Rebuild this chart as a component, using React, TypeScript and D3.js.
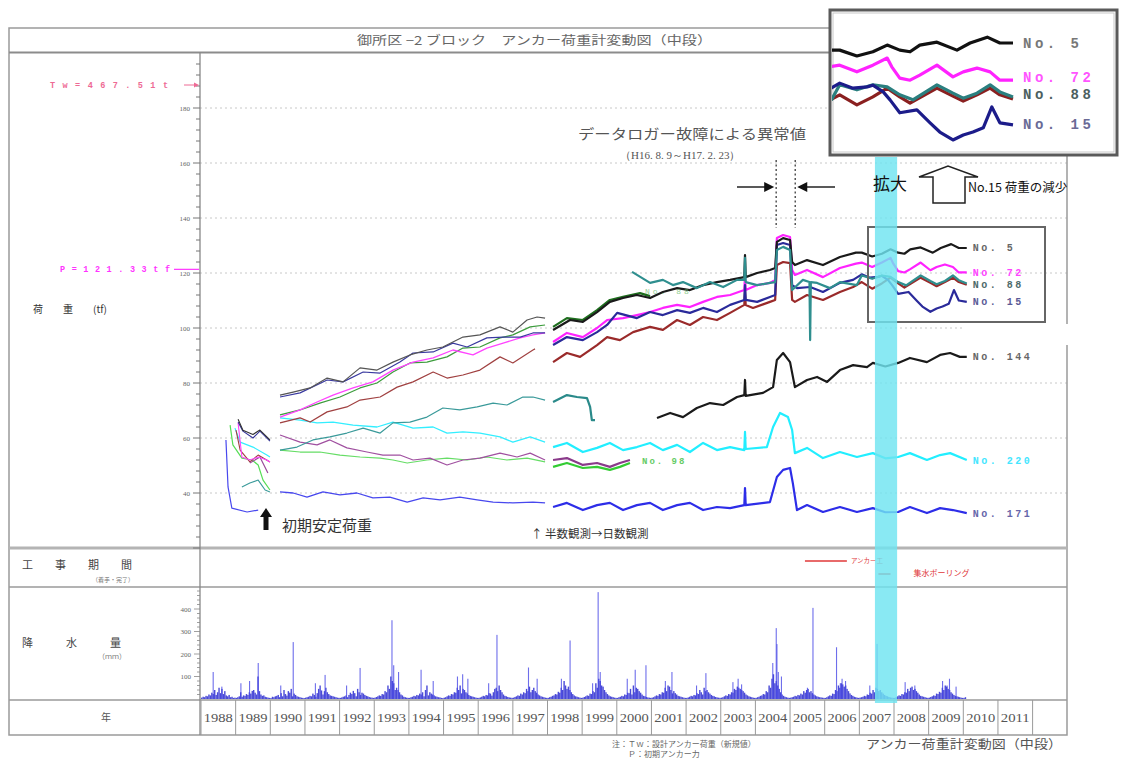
import React from "react";
import * as d3 from "d3";

type Pt = [number, number];

// ---------- load data (tf), segments separated by logging gaps ----------
const no5: Pt[][] = [
  [[1989.07, 66.8], [1989.21, 62.8], [1989.5, 61.3], [1989.7, 62.9], [1989.99, 59.3]],
  [[1990.28, 75.6], [1990.66, 76.7], [1991.15, 78.2], [1991.64, 81.8], [1992.1, 80.4], [1992.59, 85.5], [1993.08, 84.7], [1993.54, 87.6], [1994.03, 90.2], [1994.52, 92.0], [1994.98, 93.1], [1995.56, 96.7], [1996.05, 97.5], [1996.63, 100.4], [1997.0, 98.5], [1997.41, 102.9], [1997.7, 104.0], [1997.93, 103.6]],
  [[1998.16, 99.3], [1998.65, 102.9], [1999.02, 102.2], [1999.43, 105.8], [1999.8, 109.5], [2000.18, 110.9], [2000.58, 112.0], [2000.96, 110.9], [2001.33, 113.1], [2001.74, 114.5], [2002.11, 113.8], [2002.49, 115.6], [2002.89, 116.7], [2003.27, 117.5], [2003.68, 118.5], [2003.7, 126.5], [2003.72, 118.5], [2004.05, 120.0], [2004.42, 121.1], [2004.57, 121.8], [2004.62, 131.3], [2004.8, 132.7], [2005.0, 132.0], [2005.06, 124.0], [2005.14, 122.9], [2005.49, 124.7], [2005.95, 122.9], [2006.44, 125.8], [2006.9, 127.4], [2007.07, 127.4], [2007.37, 126.0], [2007.65, 127.0], [2007.9, 128.6], [2008.12, 127.4], [2008.3, 127.0], [2008.47, 128.6], [2008.77, 129.3], [2009.12, 127.4], [2009.35, 129.1], [2009.65, 130.5], [2009.87, 129.1], [2010.1, 129.1]],
];

const no72: Pt[][] = [
  [[1989.07, 65.5], [1989.18, 53.1], [1989.41, 52.0], [1989.65, 53.1], [1989.9, 52.0], [1989.99, 51.3]],
  [[1990.28, 67.6], [1990.86, 70.2], [1991.35, 73.1], [1991.81, 75.6], [1992.39, 78.2], [1992.96, 80.4], [1993.54, 84.7], [1994.12, 87.6], [1994.7, 89.1], [1995.27, 92.0], [1995.85, 90.2], [1996.25, 92.7], [1996.72, 94.5], [1997.21, 96.4], [1997.58, 97.5], [1997.93, 98.2]],
  [[1998.16, 94.9], [1998.56, 98.2], [1999.02, 96.7], [1999.43, 100.0], [1999.72, 102.9], [2000.18, 103.6], [2000.58, 104.7], [2000.96, 105.8], [2001.33, 107.3], [2001.74, 108.4], [2002.11, 107.6], [2002.49, 109.5], [2002.89, 111.3], [2003.27, 112.0], [2003.68, 113.8], [2003.7, 119.3], [2003.72, 113.8], [2004.05, 115.6], [2004.42, 116.4], [2004.57, 117.5], [2004.62, 132.7], [2004.8, 133.8], [2005.0, 133.1], [2005.06, 121.1], [2005.14, 119.3], [2005.49, 121.1], [2005.95, 118.5], [2006.44, 121.8], [2006.9, 123.4], [2007.07, 123.8], [2007.37, 122.2], [2007.65, 123.8], [2007.9, 125.5], [2007.98, 123.4], [2008.12, 120.7], [2008.3, 120.2], [2008.47, 121.4], [2008.77, 123.8], [2009.05, 121.0], [2009.23, 122.2], [2009.47, 123.1], [2009.7, 122.2], [2009.87, 120.2], [2010.1, 120.2]],
];

const no15: Pt[][] = [
  [[1989.07, 65.8], [1989.21, 62.5], [1989.5, 60.0], [1989.7, 62.5], [1989.99, 58.9]],
  [[1990.28, 74.9], [1990.86, 76.4], [1991.64, 81.1], [1992.1, 80.4], [1992.68, 84.0], [1993.17, 83.6], [1993.74, 87.6], [1994.12, 90.9], [1994.7, 91.3], [1995.27, 94.5], [1995.68, 93.1], [1996.25, 96.4], [1996.72, 96.7], [1997.21, 96.7], [1997.58, 98.2], [1997.93, 98.2]],
  [[1998.16, 93.8], [1998.56, 96.7], [1999.02, 95.6], [1999.43, 98.5], [1999.72, 101.1], [2000.01, 105.5], [2000.58, 103.6], [2000.96, 105.8], [2001.33, 104.7], [2001.74, 106.5], [2002.11, 105.5], [2002.49, 107.3], [2002.89, 105.8], [2003.27, 108.4], [2003.68, 110.2], [2003.7, 115.6], [2003.72, 110.2], [2004.05, 109.5], [2004.42, 111.3], [2004.57, 112.0], [2004.62, 130.2], [2004.8, 130.9], [2005.0, 130.2], [2005.06, 115.6], [2005.2, 114.5], [2005.58, 114.9], [2005.95, 113.1], [2006.44, 116.4], [2006.82, 117.5], [2007.07, 119.5], [2007.3, 118.3], [2007.55, 118.6], [2007.65, 119.0], [2007.83, 117.4], [2007.95, 115.5], [2008.12, 112.4], [2008.42, 113.1], [2008.65, 110.0], [2008.82, 107.8], [2009.05, 105.9], [2009.23, 107.1], [2009.4, 107.8], [2009.58, 108.8], [2009.73, 113.8], [2009.87, 110.0], [2010.1, 109.5]],
];

const greenUpper: Pt[][] = [
  [[1990.28, 68.4], [1990.86, 70.2], [1991.43, 72.7], [1992.01, 74.9], [1992.59, 78.2], [1993.08, 80.0], [1993.54, 84.0], [1994.03, 87.3], [1994.52, 87.6], [1995.1, 89.5], [1995.56, 92.7], [1996.05, 93.1], [1996.63, 96.4], [1997.0, 97.5], [1997.5, 100.4], [1997.93, 101.1]],
  [[1998.16, 100.4], [1998.56, 103.6], [1999.02, 102.9], [1999.43, 106.5], [1999.8, 110.2], [2000.18, 111.3], [2000.67, 112.7], [2000.96, 111.6]],
];

const brown: Pt[][] = [
  [[1989.01, 62.9], [1989.13, 55.6], [1989.41, 51.3], [1989.65, 53.8], [1989.99, 51.3]],
  [[1990.28, 65.5], [1990.86, 67.3], [1991.15, 65.8], [1991.64, 69.5], [1992.21, 71.3], [1992.59, 73.8], [1993.17, 74.9], [1993.66, 78.5], [1994.12, 80.4], [1994.7, 84.0], [1995.1, 81.8], [1995.56, 82.9], [1996.05, 84.7], [1996.63, 89.5], [1997.0, 87.3], [1997.58, 92.0], [1997.64, 92.4]],
  [[1998.16, 87.6], [1998.56, 90.9], [1998.94, 89.5], [1999.43, 93.8], [1999.72, 96.7], [2000.09, 95.6], [2000.47, 98.5], [2000.96, 100.4], [2001.33, 99.3], [2001.74, 102.9], [2002.11, 101.1], [2002.49, 104.0], [2002.89, 102.9], [2003.27, 105.5], [2003.68, 108.4], [2003.7, 113.8], [2003.72, 108.4], [2003.93, 107.3], [2004.42, 109.5], [2004.57, 110.2], [2004.62, 122.9], [2004.8, 124.0], [2005.0, 123.6], [2005.06, 110.2], [2005.14, 109.5], [2005.49, 112.0], [2005.95, 110.2], [2006.44, 113.1], [2006.82, 114.9], [2007.07, 116.7], [2007.37, 114.3], [2007.65, 116.2], [2007.9, 118.3], [2008.12, 116.2], [2008.3, 114.7], [2008.77, 118.3], [2009.05, 116.4], [2009.23, 115.2], [2009.47, 116.7], [2009.7, 118.3], [2009.87, 116.7], [2010.1, 115.7]],
];

const tealLower: Pt[][] = [
  [[1989.18, 42.2], [1989.41, 43.6], [1989.65, 44.7], [1989.85, 41.1], [1989.99, 40.4]],
  [[1990.28, 55.6], [1990.77, 56.7], [1991.23, 59.3], [1991.72, 60.4], [1992.21, 61.8], [1992.68, 63.6], [1993.17, 61.8], [1993.54, 65.5], [1994.03, 65.8], [1994.52, 67.6], [1994.98, 70.9], [1995.47, 70.2], [1995.97, 71.3], [1996.43, 72.7], [1996.83, 72.0], [1997.29, 74.9], [1997.58, 74.9], [1997.93, 73.8]],
  [[1998.16, 73.1], [1998.56, 75.6], [1998.85, 74.9], [1999.14, 74.5], [1999.23, 71.3], [1999.28, 66.5], [1999.37, 66.5]],
];

const no88: Pt[][] = [
  [[2000.44, 120.4], [2000.96, 116.4], [2001.33, 117.5], [2001.62, 115.6], [2001.91, 116.7], [2002.31, 114.5], [2002.69, 116.7], [2003.07, 114.9], [2003.47, 117.5], [2003.68, 117.5], [2003.7, 125.5], [2003.72, 116.7], [2004.05, 115.6], [2004.42, 116.4], [2004.57, 116.7], [2004.62, 128.4], [2004.8, 129.5], [2005.0, 128.4], [2005.06, 113.8], [2005.37, 117.5], [2005.56, 116.7], [2005.58, 95.6], [2005.6, 116.7], [2005.78, 116.4], [2006.15, 114.5], [2006.44, 116.7], [2006.93, 115.6], [2007.07, 119.1], [2007.37, 117.9], [2007.65, 119.1], [2007.9, 118.6], [2008.12, 116.7], [2008.35, 115.5], [2008.77, 119.1], [2009.05, 117.1], [2009.23, 115.9], [2009.47, 117.1], [2009.7, 119.1], [2009.87, 117.4], [2010.1, 116.2]],
];

const no144: Pt[][] = [
  [[2001.16, 67.3], [2001.54, 69.1], [2001.91, 67.6], [2002.31, 70.9], [2002.69, 72.7], [2003.07, 72.0], [2003.47, 74.9], [2003.68, 75.6], [2003.7, 81.1], [2003.72, 75.3], [2004.22, 76.4], [2004.51, 78.5], [2004.62, 88.4], [2004.8, 90.9], [2005.0, 87.6], [2005.14, 78.5], [2005.49, 81.1], [2005.78, 82.2], [2006.07, 80.4], [2006.44, 84.7], [2006.82, 86.5], [2007.22, 85.8], [2007.39, 87.3], [2007.75, 86.0], [2008.12, 87.3], [2008.46, 89.1], [2008.95, 87.6], [2009.33, 90.2], [2009.62, 90.9], [2009.9, 89.5], [2010.1, 89.5]],
];

const no220: Pt[][] = [
  [[1988.98, 63.6], [1989.13, 58.5], [1989.5, 56.7], [1989.9, 53.8], [1989.99, 53.1]],
  [[1990.28, 67.3], [1990.86, 66.5], [1991.35, 65.5], [1991.81, 65.8], [1992.39, 64.7], [1993.08, 64.0], [1993.54, 65.8], [1994.12, 63.6], [1994.7, 64.0], [1995.1, 61.8], [1995.56, 62.2], [1996.05, 61.8], [1996.63, 60.4], [1997.0, 58.5], [1997.5, 60.4], [1997.93, 58.5]],
  [[1998.16, 56.7], [1998.56, 58.2], [1999.02, 54.9], [1999.43, 56.4], [1999.8, 58.2], [2000.18, 55.6], [2000.58, 56.7], [2000.96, 58.2], [2001.33, 55.6], [2001.74, 57.5], [2002.11, 54.9], [2002.49, 58.2], [2002.89, 55.6], [2003.27, 56.7], [2003.68, 55.6], [2003.7, 62.2], [2003.72, 56.0], [2004.33, 56.7], [2004.51, 64.0], [2004.71, 69.1], [2004.94, 67.6], [2005.06, 62.9], [2005.14, 54.5], [2005.49, 56.4], [2005.95, 52.7], [2006.44, 54.9], [2006.93, 53.1], [2007.39, 54.5], [2007.75, 52.6], [2008.12, 53.1], [2008.46, 54.5], [2008.95, 52.0], [2009.33, 53.8], [2009.62, 54.5], [2010.1, 52.0]],
];

const no171: Pt[][] = [
  [[1988.72, 59.3], [1988.78, 42.2], [1988.89, 34.5], [1989.33, 33.1], [1989.65, 33.8]],
  [[1990.28, 40.4], [1990.66, 40.0], [1991.06, 38.5], [1991.52, 40.4], [1992.01, 39.3], [1992.5, 40.0], [1992.96, 38.2], [1993.45, 38.5], [1993.95, 36.7], [1994.41, 38.2], [1994.9, 37.5], [1995.47, 38.5], [1995.97, 37.5], [1996.43, 36.7], [1997.0, 36.4], [1997.58, 36.7], [1997.93, 36.4]],
  [[1998.16, 34.9], [1998.56, 36.4], [1999.02, 33.8], [1999.43, 35.6], [1999.8, 36.4], [2000.18, 33.8], [2000.58, 35.6], [2000.96, 36.4], [2001.33, 33.8], [2001.74, 35.6], [2002.11, 36.4], [2002.49, 33.8], [2002.89, 34.9], [2003.27, 34.5], [2003.68, 35.6], [2003.7, 41.8], [2003.72, 35.6], [2004.42, 36.7], [2004.62, 45.8], [2004.8, 48.4], [2005.0, 49.1], [2005.08, 43.6], [2005.2, 33.8], [2005.49, 35.6], [2005.95, 33.1], [2006.44, 34.9], [2006.93, 33.1], [2007.39, 34.5], [2007.75, 33.0], [2008.12, 33.1], [2008.46, 34.9], [2008.95, 32.7], [2009.33, 34.5], [2009.7, 33.8], [2010.1, 32.7]],
];

const no98: Pt[][] = [
  [[1989.41, 50.9], [1989.7, 53.1], [1989.93, 47.3]],
  [[1990.28, 61.1], [1990.86, 58.5], [1991.35, 57.5], [1991.72, 59.3], [1992.21, 56.4], [1992.79, 54.9], [1993.25, 53.8], [1993.74, 53.8], [1994.12, 52.0], [1994.61, 52.7], [1995.1, 50.2], [1995.56, 52.0], [1996.05, 52.7], [1996.63, 54.5], [1997.12, 53.1], [1997.5, 54.5], [1997.93, 52.0]],
  [[1998.16, 52.0], [1998.56, 52.7], [1999.02, 50.2], [1999.43, 50.9], [1999.8, 49.5], [2000.09, 50.9], [2000.38, 52.0]],
];

const limeGreen: Pt[][] = [
  [[1988.84, 64.7], [1988.92, 57.5], [1989.18, 52.7], [1989.47, 52.0], [1989.65, 50.2], [1989.79, 44.7], [1989.99, 41.1]],
  [[1990.28, 55.6], [1990.86, 54.9], [1991.43, 54.9], [1992.01, 53.8], [1992.59, 53.1], [1993.17, 52.7], [1993.54, 52.0], [1993.95, 50.9], [1994.52, 52.0], [1995.1, 52.7], [1995.68, 52.0], [1996.25, 53.1], [1996.83, 52.0], [1997.41, 52.7], [1997.93, 51.3]],
  [[1998.16, 49.5], [1998.56, 50.9], [1999.02, 49.1], [1999.43, 49.5], [1999.8, 48.4], [2000.09, 49.5], [2000.38, 50.9]],
];

// ---------- rainfall (mm): half-monthly bars per year, plus storm peaks ----------
const rainYears = d3.range(1988, 2011);
const rainHalfMonthly: number[][] = [
  [6, 10, 8, 14, 12, 20, 16, 28, 22, 40, 18, 30, 50, 26, 45, 22, 35, 16, 12, 18, 8, 10, 5, 6],
  [5, 8, 12, 30, 10, 16, 14, 22, 18, 30, 24, 36, 40, 28, 20, 100, 35, 20, 14, 16, 10, 8, 6, 5],
  [4, 10, 8, 12, 14, 18, 8, 26, 12, 40, 22, 15, 35, 28, 45, 12, 24, 18, 12, 10, 8, 6, 5, 4],
  [6, 8, 10, 14, 12, 24, 18, 10, 26, 45, 60, 38, 20, 35, 50, 30, 22, 16, 14, 12, 10, 8, 6, 5],
  [5, 7, 10, 12, 16, 8, 18, 28, 22, 36, 26, 12, 45, 30, 18, 28, 24, 18, 14, 12, 9, 7, 6, 5],
  [6, 9, 12, 16, 14, 22, 20, 35, 30, 60, 45, 100, 80, 70, 40, 50, 40, 30, 20, 16, 10, 8, 6, 5],
  [5, 8, 10, 14, 12, 18, 16, 24, 20, 30, 12, 40, 60, 16, 30, 24, 20, 16, 12, 10, 8, 7, 5, 4],
  [6, 8, 12, 16, 14, 22, 20, 30, 28, 50, 40, 60, 25, 45, 40, 30, 25, 18, 14, 12, 10, 8, 6, 5],
  [5, 7, 10, 14, 12, 18, 16, 26, 24, 15, 30, 45, 50, 35, 60, 40, 30, 20, 14, 12, 9, 7, 6, 5],
  [6, 9, 12, 16, 14, 24, 20, 30, 26, 45, 35, 55, 30, 40, 50, 35, 28, 20, 16, 12, 10, 8, 6, 5],
  [5, 8, 10, 14, 16, 22, 20, 32, 28, 50, 40, 80, 60, 45, 55, 40, 30, 22, 16, 12, 10, 8, 6, 5],
  [6, 9, 12, 16, 14, 24, 22, 35, 30, 70, 50, 90, 80, 60, 55, 40, 30, 22, 16, 12, 10, 8, 6, 5],
  [5, 8, 10, 14, 12, 20, 18, 28, 26, 45, 20, 60, 30, 50, 45, 35, 28, 20, 14, 12, 9, 7, 6, 5],
  [6, 8, 12, 16, 14, 22, 20, 30, 28, 50, 35, 60, 55, 40, 25, 35, 26, 20, 14, 12, 10, 8, 6, 5],
  [5, 7, 10, 14, 12, 18, 16, 26, 22, 40, 30, 20, 50, 35, 40, 30, 24, 18, 14, 12, 9, 7, 6, 5],
  [6, 8, 12, 16, 14, 22, 20, 30, 28, 45, 40, 55, 50, 45, 40, 35, 28, 20, 16, 12, 10, 8, 6, 5],
  [5, 8, 10, 14, 16, 22, 20, 35, 30, 60, 50, 90, 110, 70, 80, 60, 45, 30, 20, 14, 10, 8, 6, 5],
  [6, 8, 10, 14, 12, 18, 16, 24, 20, 35, 28, 40, 45, 30, 35, 26, 20, 16, 12, 10, 8, 7, 6, 5],
  [5, 8, 12, 16, 14, 24, 22, 40, 35, 60, 50, 70, 65, 55, 60, 45, 35, 25, 18, 14, 10, 8, 6, 5],
  [6, 8, 10, 14, 12, 20, 18, 28, 24, 40, 30, 50, 45, 35, 40, 30, 24, 18, 14, 12, 9, 7, 6, 5],
  [5, 8, 12, 16, 14, 22, 20, 30, 28, 45, 35, 50, 55, 40, 45, 35, 28, 20, 14, 12, 10, 8, 6, 5],
  [6, 9, 12, 16, 14, 24, 22, 32, 28, 50, 40, 60, 55, 45, 40, 30, 24, 18, 14, 12, 10, 8, 6, 5],
  [5, 8],
];
const rainPeaks: Pt[] = [
  [1988.35, 120], [1988.6, 55], [1989.15, 70], [1989.4, 80], [1989.65, 160], [1990.3, 60], [1990.66, 253],
  [1991.3, 70], [1991.58, 107], [1992.2, 60], [1992.59, 138], [1993.51, 350], [1993.56, 150], [1993.7, 120],
  [1994.35, 130], [1994.7, 80], [1995.4, 100], [1995.55, 110], [1995.7, 90], [1996.3, 70], [1996.54, 285],
  [1997.45, 140], [1997.7, 90], [1998.4, 90], [1998.65, 260], [1999.3, 70], [1999.46, 475], [1999.52, 120],
  [2000.3, 90], [2000.53, 130], [2000.84, 150], [2001.4, 80], [2001.59, 120], [2002.3, 60], [2002.57, 115],
  [2003.35, 75], [2003.5, 90], [2003.6, 65], [2004.5, 160], [2004.6, 315], [2004.62, 244], [2004.66, 120],
  [2004.75, 100], [2005.5, 50], [2005.66, 405], [2006.34, 230], [2006.45, 70], [2006.5, 90], [2006.6, 80],
  [2007.3, 60], [2007.51, 245], [2008.32, 75], [2008.6, 60], [2009.4, 80], [2009.53, 60], [2009.6, 90],
  [2009.79, 55],
];

// ---------- construction periods, ticks, annotations ----------
const works = [
  { name: "アンカー工", start: 2005.43, end: 2006.64, row: 0 },
  { name: "集水ボーリング", start: 2007.55, end: 2007.9, row: 1 },
];
const loadTicks = [40, 60, 80, 100, 120, 140, 160, 180];
const rainTicks = [100, 200, 300, 400];
const years = d3.range(1988, 2012);
const loggerFault: [number, number] = [2004.6, 2005.15];
const highlight: [number, number] = [2007.45, 2008.09];
const designLoad = 467.51;
const initialLoad = 121.33;

// scales
const x = d3.scaleLinear().domain([1988, 2012]).range([201, 1032.6]);
const yLoad = d3.scaleLinear().domain([40, 180]).range([493, 108]);
const yRain = d3.scaleLinear().domain([0, 400]).range([699, 609]);
const xIn = d3.scaleLinear().domain([2006.9, 2010.1]).range([830, 1013]);
const yIn = d3.scaleLinear().domain([137, 102.3]).range([10, 155]);

type Series = { data: Pt[][]; colors: string[]; widths: number[] };
const drawOrder: Series[] = [
  { data: limeGreen, colors: ["#55dd55", "#66dd66", "#33cc33"], widths: [1.2, 1.2, 2.2] },
  { data: no98, colors: ["#9a4a9a", "#a050a0", "#8a3a8a"], widths: [1.2, 1.2, 2.2] },
  { data: no220, colors: ["#33eeff", "#33eeff", "#22eeff"], widths: [1.2, 1.3, 2.2] },
  { data: no171, colors: ["#4848ee", "#4848ee", "#2d2de8"], widths: [1.2, 1.3, 2.2] },
  { data: tealLower, colors: ["#3a9a9a", "#3a9a9a", "#2a8a8a"], widths: [1.1, 1.2, 2.2] },
  { data: brown, colors: ["#a04040", "#a04040", "#9a2a2a"], widths: [1.1, 1.2, 2.2] },
  { data: greenUpper, colors: ["#3c9c3c", "#1e6e1e"], widths: [1.2, 2.2] },
  { data: no72, colors: ["#ff44ff", "#ff44ff", "#ff22ff"], widths: [1.1, 1.3, 2.2] },
  { data: no15, colors: ["#333399", "#3a3aa0", "#2a2a9a"], widths: [1.1, 1.2, 2.2] },
  { data: no5, colors: ["#333", "#555", "#1a1a1a"], widths: [1.1, 1.2, 2.2] },
  { data: no88, colors: ["#2f8f8f"], widths: [2.2] },
  { data: no144, colors: ["#1a1a1a"], widths: [2.2] },
];

const insetSeries: { data: Pt[][]; color: string }[] = [
  { data: no5, color: "#111" },
  { data: brown, color: "#8a2020" },
  { data: no88, color: "#2a7f7f" },
  { data: no72, color: "#ff22ff" },
  { data: no15, color: "#1c1c8a" },
];

const endLabels = [
  { text: "No. 5", data: no5, color: "#666" },
  { text: "No. 72", data: no72, color: "#ff44ff" },
  { text: "No. 88", data: brown, color: "#4d6a6a" },
  { text: "No. 15", data: no15, color: "#5a5a96" },
  { text: "No. 144", data: no144, color: "#666" },
  { text: "No. 220", data: no220, color: "#44e6ff" },
  { text: "No. 171", data: no171, color: "#6666aa" },
];

const insetLabels = [
  { text: "No. 5", v: 129.1, color: "#777" },
  { text: "No. 72", v: 120.9, color: "#ff55ff" },
  { text: "No. 88", v: 117.0, color: "#4d5f5f" },
  { text: "No. 15", v: 109.8, color: "#6a6a96" },
];

const jp = "'Noto Sans CJK JP', sans-serif";
const mono = "'Liberation Mono', 'DejaVu Sans Mono', monospace";
const serif = "'Liberation Serif', 'DejaVu Serif', serif";

export default function App() {
  const line = d3.line<Pt>().x((d) => x(d[0])).y((d) => yLoad(d[1]));
  const lineIn = d3.line<Pt>().x((d) => xIn(d[0])).y((d) => yIn(d[1]));
  const frameR = 1067;

  const rainBars: { t: number; v: number }[] = [];
  rainHalfMonthly.forEach((row, i) =>
    row.forEach((v, j) => rainBars.push({ t: rainYears[i] + (j + 0.5) / 24, v }))
  );

  const last = (s: Pt[][]) => s[s.length - 1][s[s.length - 1].length - 1];

  return (
    <svg
      width={1123}
      height={758}
      viewBox="0 0 1123 758"
      style={{ position: "absolute", left: 0, top: 0, background: "#fff" }}
    >
      <defs>
        <clipPath id="insetClip">
          <rect x={832} y={12} width={184} height={141} />
        </clipPath>
      </defs>

      {/* gridlines */}
      {loadTicks.map((t) => (
        <line key={"g" + t} x1={200} x2={frameR} y1={yLoad(t)} y2={yLoad(t)} stroke="#c8c8c8" strokeWidth={1} strokeDasharray="2,3" />
      ))}

      {/* frame */}
      <rect x={9} y={28} width={frameR - 9} height={707} fill="none" stroke="#9a9a9a" strokeWidth={1.5} />
      <line x1={9} x2={frameR} y1={52.5} y2={52.5} stroke="#8c8c8c" strokeWidth={2} />
      <line x1={9} x2={frameR} y1={548} y2={548} stroke="#b4b4b4" strokeWidth={3} />
      <line x1={9} x2={frameR} y1={587} y2={587} stroke="#9a9a9a" strokeWidth={1.5} />
      <line x1={9} x2={frameR} y1={700} y2={700} stroke="#9a9a9a" strokeWidth={1.5} />
      <line x1={200} x2={200} y1={52} y2={735} stroke="#888" strokeWidth={1.3} />
      {years.concat([2012]).map((yr) => (
        <line key={"yb" + yr} x1={x(yr)} x2={x(yr)} y1={700} y2={735} stroke="#9a9a9a" strokeWidth={1} />
      ))}
      {years.map((yr) => (
        <text key={"yl" + yr} x={x(yr + 0.5)} y={722} textAnchor="middle" fontFamily={serif} fontSize={12} fill="#555" textLength={29} lengthAdjust="spacingAndGlyphs">
          {yr}
        </text>
      ))}

      {/* title */}
      <text x={357} y={45} fontFamily={jp} fontSize={12} fill="#666" textLength={355} lengthAdjust="spacingAndGlyphs">
        御所区 −2 ブロック　アンカー荷重計変動図（中段）
      </text>

      {/* load axis */}
      {d3.range(20, 200, 4).map((t) => (
        <line key={"mt" + t} x1={t % 20 === 0 ? 193 : 196} x2={200} y1={yLoad(t)} y2={yLoad(t)} stroke="#777" strokeWidth={1} />
      ))}
      {loadTicks.map((t) => (
        <text key={"tl" + t} x={190} y={yLoad(t) + 2.5} textAnchor="end" fontFamily={serif} fontSize={7} fill="#666">
          {t}
        </text>
      ))}
      <text x={50} y={yLoad(180) - 20} fontFamily={mono} fontWeight="bold" fontSize={8.5} fill="#ee6a95" textLength={118} lengthAdjust="spacing">
        {`Tw=${designLoad}t`}
      </text>
      <line x1={184} x2={197} y1={yLoad(180) - 23} y2={yLoad(180) - 23} stroke="#ee6a95" strokeWidth={1} />
      <path d={`M199,${yLoad(180) - 23} L194,${yLoad(180) - 25.5} L194,${yLoad(180) - 20.5} Z`} fill="#ee6a95" />
      <text x={60} y={yLoad(initialLoad) + 3} fontFamily={mono} fontWeight="bold" fontSize={8.5} fill="#ff33ff" textLength={110} lengthAdjust="spacing">
        {`P=${initialLoad}tf`}
      </text>
      <line x1={174} x2={199} y1={yLoad(initialLoad)} y2={yLoad(initialLoad)} stroke="#ff33ff" strokeWidth={1.2} />
      <text x={33} y={313} fontFamily={jp} fontSize={10} fill="#333">荷　　重　　(tf)</text>

      {/* load series */}
      {drawOrder.map((s, i) =>
        s.data.map((seg, j) => (
          <path
            key={`s${i}-${j}`}
            d={line(seg) || ""}
            fill="none"
            stroke={s.colors[Math.min(j, s.colors.length - 1)]}
            strokeWidth={s.widths[Math.min(j, s.widths.length - 1)]}
            strokeLinejoin="round"
          />
        ))
      )}

      {/* end labels */}
      {endLabels.map((l) => (
        <text key={l.text} x={x(last(l.data)[0]) + 6} y={yLoad(last(l.data)[1]) + 3.5} fontFamily={mono} fontWeight="bold" fontSize={10} fill={l.color} letterSpacing={2.5}>
          {l.text}
        </text>
      ))}
      <text x={642} y={yLoad(52) + 4} fontFamily={mono} fontWeight="bold" fontSize={9} fill="#66cc66" letterSpacing={2}>No. 98</text>
      <text x={645} y={yLoad(113.5) + 3} fontFamily={mono} fontSize={8} fill="#66bb66" opacity={0.7} letterSpacing={3}>No. 88</text>

      {/* magnified-range box */}
      <rect x={868} y={227} width={177} height={95} fill="none" stroke="#666" strokeWidth={2} />
      <rect x={963} y={324} width={105} height={21} fill="#fff" />

      {/* initial-load annotation */}
      <path d="M266,508 L272,517 L268.5,517 L268.5,530 L263.5,530 L263.5,517 L260,517 Z" fill="#111" />
      <text x={282} y={531} fontFamily={jp} fontSize={15} fill="#333">初期安定荷重</text>
      <text x={531} y={538} fontFamily={jp} fontSize={11.5} fill="#333">↑ 半数観測→日数観測</text>

      {/* logger fault annotation */}
      <text x={578} y={139} fontFamily={jp} fontSize={13.5} fill="#555" textLength={228} lengthAdjust="spacingAndGlyphs">データロガー故障による異常値</text>
      <text x={620} y={159} fontFamily={serif} fontSize={11} fill="#555">（H16. 8. 9～H17. 2. 23）</text>
      {loggerFault.map((t, i) => (
        <line key={"lf" + i} x1={x(t)} x2={x(t)} y1={160} y2={228} stroke="#555" strokeWidth={1.5} strokeDasharray="2,2.5" />
      ))}
      <line x1={737} x2={x(loggerFault[0]) - 10} y1={187} y2={187} stroke="#222" strokeWidth={1.5} />
      <path d={`M${x(loggerFault[0]) - 2},187 L${x(loggerFault[0]) - 12},182 L${x(loggerFault[0]) - 12},192 Z`} fill="#111" />
      <line x1={835} x2={x(loggerFault[1]) + 10} y1={187} y2={187} stroke="#222" strokeWidth={1.5} />
      <path d={`M${x(loggerFault[1]) + 2},187 L${x(loggerFault[1]) + 12},182 L${x(loggerFault[1]) + 12},192 Z`} fill="#111" />

      {/* lower rows */}
      <text x={22} y={569} fontFamily={jp} fontSize={11} fill="#444">工　　事　　期　　間</text>
      <text x={92} y={582} fontFamily={jp} fontSize={6} fill="#777">（着手・完了）</text>
      {works.map((w) => (
        <g key={w.name}>
          <line x1={x(w.start)} x2={x(w.end)} y1={561 + w.row * 13} y2={561 + w.row * 13} stroke="#e03838" strokeWidth={1.5} />
          <text x={x(w.end) + (w.row ? 23 : 4)} y={563 + w.row * 13} fontFamily={jp} fontSize={w.row ? 8 : 6.5} fill="#e03838">{w.name}</text>
        </g>
      ))}
      <text x={22} y={647} fontFamily={jp} fontSize={11} fill="#444">降　　　水　　　量</text>
      <text x={98} y={659} fontFamily={jp} fontSize={7} fill="#777">（ｍｍ）</text>
      {d3.range(20, 500, 20).map((t) => (
        <line key={"rt" + t} x1={t % 100 === 0 ? 194 : 197} x2={200} y1={yRain(t)} y2={yRain(t)} stroke="#888" strokeWidth={0.8} />
      ))}
      {rainTicks.map((t) => (
        <text key={"rl" + t} x={191} y={yRain(t) + 2.5} textAnchor="end" fontFamily={serif} fontSize={7} fill="#666">{t}</text>
      ))}
      {rainBars.map((b, i) => (
        <rect key={"rb" + i} x={x(b.t) - 0.7} y={yRain(b.v)} width={1.4} height={yRain(0) - yRain(b.v)} fill="#2a2ad0" opacity={0.85} />
      ))}
      {rainPeaks.map((p, i) => (
        <rect key={"rp" + i} x={x(p[0]) - 0.5} y={yRain(p[1])} width={1.1} height={yRain(0) - yRain(p[1])} fill="#4a4ae6" opacity={0.8} />
      ))}
      <text x={101} y={721} fontFamily={jp} fontSize={10} fill="#555">年</text>

      {/* highlighted period */}
      <rect x={x(highlight[0])} y={157} width={x(highlight[1]) - x(highlight[0])} height={546} fill="#6fe4f0" opacity={0.82} />

      {/* magnified view */}
      <rect x={830} y={10} width={287} height={145} fill="#fff" stroke="#5a5a5a" strokeWidth={3} />
      <rect x={833} y={13} width={281} height={139} fill="none" stroke="#c8c8c8" strokeWidth={1} />
      <g clipPath="url(#insetClip)">
        {insetSeries.map((s, i) => (
          <path key={"in" + i} d={lineIn(s.data[s.data.length - 1].filter((d) => d[0] >= 2006.4)) || ""} fill="none" stroke={s.color} strokeWidth={3.2} strokeLinejoin="round" />
        ))}
      </g>
      {insetLabels.map((l) => (
        <text key={"il" + l.text} x={1023} y={yIn(l.v) + 5} fontFamily={mono} fontWeight="bold" fontSize={14} fill={l.color} letterSpacing={3.5}>
          {l.text}
        </text>
      ))}
      <text x={873} y={190} fontFamily={jp} fontSize={17} fill="#111">拡大</text>
      <path d="M919,177 L948,166 L978,177 L965,177 L965,203 L933,203 L933,177 Z" fill="#fff" stroke="#222" strokeWidth={1.5} />
      <text x={968} y={192} fontFamily={jp} fontSize={12.5} fill="#111">No.15 荷重の減少</text>

      {/* footnotes */}
      <text x={612} y={747} fontFamily={jp} fontSize={8} fill="#666">注：Ｔｗ：設計アンカー荷重（新規値）</text>
      <text x={612} y={757} fontFamily={jp} fontSize={8} fill="#666">　　Ｐ：初期アンカー力</text>
      <text x={866} y={749} fontFamily={jp} fontSize={12.5} fill="#555" textLength={196} lengthAdjust="spacingAndGlyphs">アンカー荷重計変動図（中段）</text>
    </svg>
  );
}
